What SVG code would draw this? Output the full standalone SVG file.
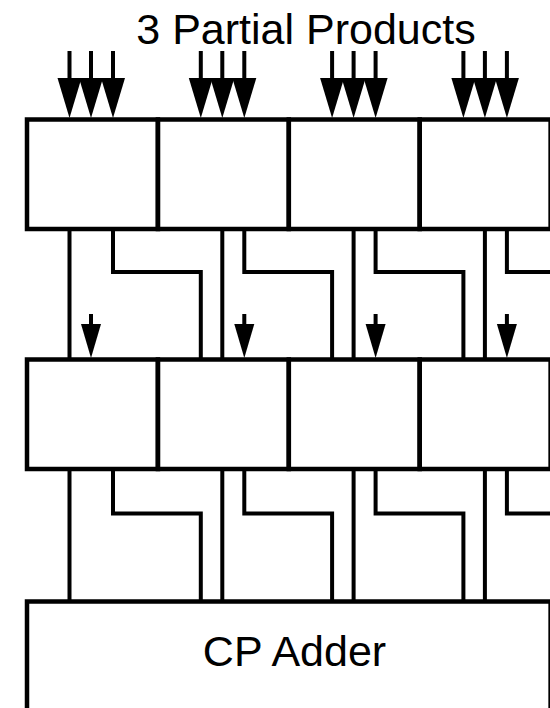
<svg xmlns="http://www.w3.org/2000/svg" width="550" height="708" viewBox="0 0 550 708">
<style>
.box{fill:none;stroke:#000;stroke-width:4.5}
.w{fill:none;stroke:#000;stroke-width:4;stroke-linejoin:miter;stroke-linecap:butt}
.lbl{font-family:"Liberation Sans",Arial,sans-serif;font-size:43px;fill:#000;text-anchor:middle}
</style>
<defs>
<path id="bigHead" d="M-12,0 L12,0 L0,40 Z" fill="#000"/>
<path id="smallHead" d="M-10,0 L10,0 L0,34 Z" fill="#000"/>
</defs>
<rect width="550" height="708" fill="#fff"/>
<text class="lbl" x="306" y="44">3 Partial Products</text>
<g id="row1">
<g id="r1b1"><rect class="box" x="27" y="119.5" width="130.9" height="109.5"/></g>
<g id="r1b2"><rect class="box" x="157.9" y="119.5" width="130.9" height="109.5"/></g>
<g id="r1b3"><rect class="box" x="288.8" y="119.5" width="130.9" height="109.5"/></g>
<g id="r1b4"><rect class="box" x="419.7" y="119.5" width="130.9" height="109.5"/></g>
</g>
<g id="row2">
<g id="r2b1"><rect class="box" x="27" y="359.5" width="130.9" height="109.5"/></g>
<g id="r2b2"><rect class="box" x="157.9" y="359.5" width="130.9" height="109.5"/></g>
<g id="r2b3"><rect class="box" x="288.8" y="359.5" width="130.9" height="109.5"/></g>
<g id="r2b4"><rect class="box" x="419.7" y="359.5" width="130.9" height="109.5"/></g>
</g>
<g id="cpadder">
<rect class="box" x="27" y="601.5" width="523.6" height="130"/>
<text class="lbl" x="294.5" y="666">CP Adder</text>
</g>
<g id="connectors">
<!-- partial product inputs -->
<path class="w" d="M69.5,51V79M91,51V79M113,51V79M200.8,51V79M222.3,51V79M244.3,51V79M332.1,51V79M353.6,51V79M375.6,51V79M463.4,51V79M484.9,51V79M506.9,51V79"/>
<use href="#bigHead" x="69.5" y="78"/><use href="#bigHead" x="91" y="78"/><use href="#bigHead" x="113" y="78"/>
<use href="#bigHead" x="200.8" y="78"/><use href="#bigHead" x="222.3" y="78"/><use href="#bigHead" x="244.3" y="78"/>
<use href="#bigHead" x="332.1" y="78"/><use href="#bigHead" x="353.6" y="78"/><use href="#bigHead" x="375.6" y="78"/>
<use href="#bigHead" x="463.4" y="78"/><use href="#bigHead" x="484.9" y="78"/><use href="#bigHead" x="506.9" y="78"/>
<!-- row1 to row2 -->
<path class="w" d="M69.5,229V359.5M222.3,229V359.5M353.6,229V359.5M484.9,229V359.5"/>
<path class="w" d="M113,227V272H200.8V359.5M244.3,227V272H332.1V359.5M375.6,227V272H463.4V359.5M506.9,227V272H556"/>
<path class="w" d="M91,314V325M244.3,314V325M375.6,314V325M506.9,314V325"/>
<use href="#smallHead" x="91" y="324"/><use href="#smallHead" x="244.3" y="324"/><use href="#smallHead" x="375.6" y="324"/><use href="#smallHead" x="506.9" y="324"/>
<!-- row2 to CP adder -->
<path class="w" d="M69.5,469V601.5M222.3,469V601.5M353.6,469V601.5M484.9,469V601.5"/>
<path class="w" d="M113,467V513.5H200.8V601.5M244.3,467V513.5H332.1V601.5M375.6,467V513.5H463.4V601.5M506.9,467V513.5H556"/>
</g>
</svg>
